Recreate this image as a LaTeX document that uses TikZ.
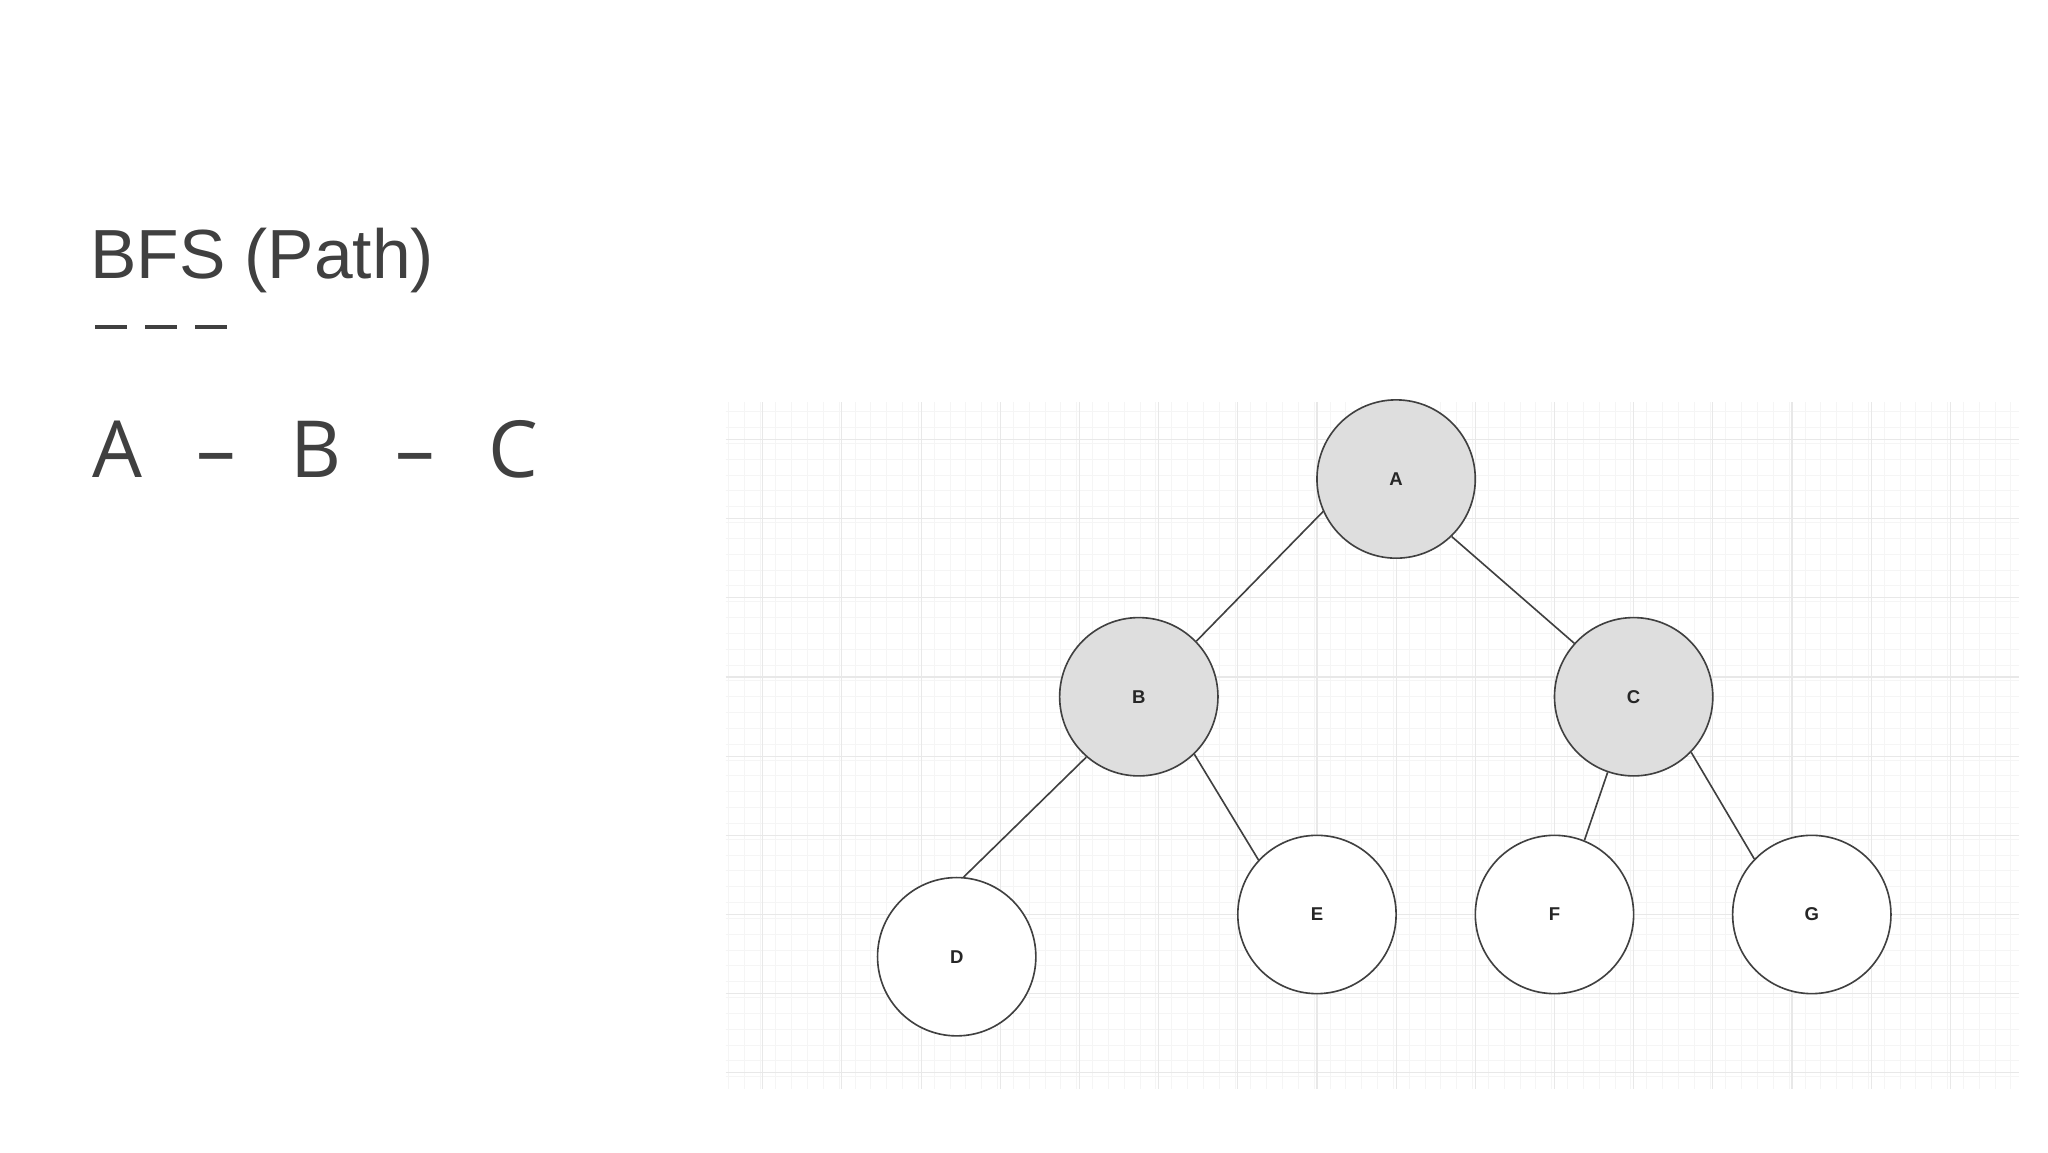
\documentclass[tikz,border=0pt]{standalone}
\usepackage{fontspec}
\setmainfont{Liberation Sans}
\newfontfamily\opens{Open Sans}
\begin{document}
\begin{tikzpicture}[x=0.02cm,y=-0.02cm,
  vtx/.style={circle,draw=black!75,line width=0.7pt,minimum size=2.4cm,inner sep=0pt,font=\fontsize{8}{9}\selectfont\bfseries,text=black!85},
  hit/.style={vtx,fill=black!13},
  edge/.style={draw=black!75,line width=0.7pt}]
\useasboundingbox (0,0) rectangle (1552,873);
\fill[white] (0,0) rectangle (1552,873);
% grid
\draw[black!4,line width=0.3pt] (550,305) grid[step=0.24cm] (1530,825);
\foreach \x in {578,638,...,1530} \draw[black!9,line width=0.5pt] (\x,305) -- (\x,825);
\foreach \y in {333,393,...,825} \draw[black!9,line width=0.5pt] (550,\y) -- (1530,\y);
% text
\node[anchor=base west,inner sep=0pt,text=black!75,font=\fontsize{30}{34}\selectfont] (title) at (68,211) {BFS (Path)};
\foreach \a/\b in {72/96,110/134,148/172} \draw[black!75,line width=0.06cm] (\a,248) -- (\b,248);
\node[anchor=base west,inner sep=0pt,text=black!75,font=\opens\fontsize{34}{40}\selectfont] (path) at (70,362) {A\hspace{0.82cm}–\hspace{0.82cm}B\hspace{0.82cm}–\hspace{0.82cm}C};
% nodes
\node[hit] (A) at (1058,363) {A};
\node[hit] (B) at (863,528) {B};
\node[hit] (C) at (1238,528) {C};
\node[vtx,fill=white] (D) at (725,725) {D};
\node[vtx,fill=white] (E) at (998,693) {E};
\node[vtx,fill=white] (F) at (1178,693) {F};
\node[vtx,fill=white] (G) at (1373,693) {G};
\draw[edge] (A.204) -- (B.44); \draw[edge] (A.314) -- (C.138);
\draw[edge] (B.229) -- (D.85); \draw[edge] (B.314) -- (E.137);
\draw[edge] (C.251) -- (F.68); \draw[edge] (C.316) -- (G.136);
\end{tikzpicture}
\end{document}
